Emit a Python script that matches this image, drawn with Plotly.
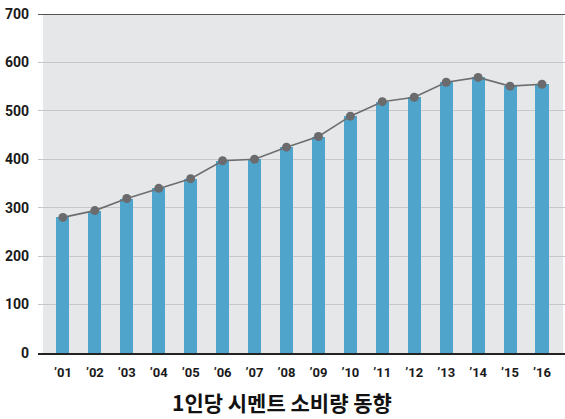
import plotly.graph_objects as go

years = ["’01", "’02", "’03", "’04", "’05", "’06", "’07", "’08",
         "’09", "’10", "’11", "’12", "’13", "’14", "’15", "’16"]
consumption = [280, 294, 319, 340, 360, 397, 400, 425,
               447, 489, 519, 528, 559, 569, 551, 555]
y_ticks = [0, 100, 200, 300, 400, 500, 600, 700]
title_text = "1인당 시멘트 소비량 동향"

W, H = 565, 419
L, R, T, B = 38, 0, 14, 66

fig = go.Figure()
fig.add_trace(go.Bar(
    x=years, y=consumption, width=0.41,
    marker=dict(color="#4fa4cc", line=dict(width=0)),
    hoverinfo="skip", showlegend=False,
))
fig.add_trace(go.Scatter(
    x=years, y=consumption, mode="lines+markers",
    line=dict(color="#6e6e6e", width=1.6),
    marker=dict(color="#6b6b6d", size=9),
    showlegend=False,
))

pw = W - L - R
fig.add_shape(type="rect", xref="paper", yref="paper",
              x0=(43 - L) / pw, x1=(563 - L) / pw, y0=0, y1=1,
              fillcolor="#e6e7e9", line=dict(width=0), layer="below")
fig.add_shape(type="line", xref="paper", yref="y", x0=0, x1=1, y0=700, y1=700,
              line=dict(color="#222222", width=1.5))

fig.add_annotation(text=title_text, xref="paper", yref="paper",
                   x=(282 - L) / pw, y=-(402 - (H - B)) / (H - T - B),
                   showarrow=False, xanchor="center", yanchor="middle",
                   font=dict(family="Noto Sans CJK KR", size=21, color="#111111",
                             weight="bold"))

fig.update_layout(
    width=W, height=H,
    margin=dict(l=L, r=R, t=T, b=B, pad=0),
    paper_bgcolor="white", plot_bgcolor="rgba(0,0,0,0)",
    bargap=0,
    font=dict(family="Roboto", color="#1a1a1a"),
)
fig.update_xaxes(
    type="category", range=[-0.78, 15.72],
    showgrid=False, showline=True, linecolor="#222222", linewidth=1.5,
    ticks="", ticklabelstandoff=7,
    tickfont=dict(family="Roboto", size=13, color="#1a1a1a", weight="bold"),
    fixedrange=True,
)
fig.update_yaxes(
    range=[0, 700], tickvals=y_ticks,
    showgrid=True, gridcolor="#c6c7c9", gridwidth=1,
    zeroline=False, showline=False, ticks="",
    ticklabelstandoff=8,
    tickfont=dict(family="Roboto", size=14, color="#1a1a1a", weight="bold"),
    fixedrange=True,
)

fig.write_html("out.html", config={"displayModeBar": False},
               post_script="document.body.style.margin='0';")
